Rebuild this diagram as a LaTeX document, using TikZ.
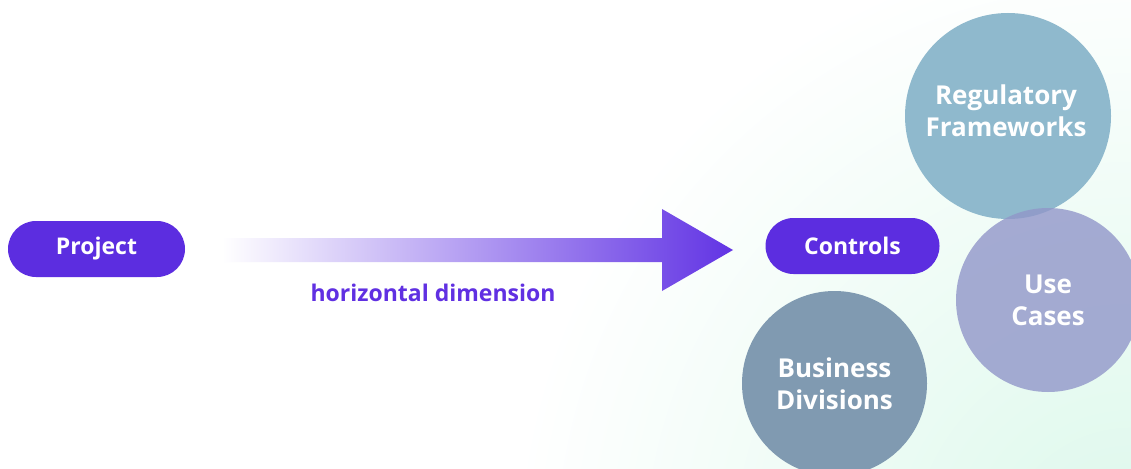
\documentclass[tikz,border=0pt]{standalone}
\usepackage{fontspec}
\setmainfont{Open Sans}
\usetikzlibrary{shapes.geometric,shapes.misc}
\definecolor{pillc}{RGB}{92,45,224}
\definecolor{arrowc}{RGB}{98,52,228}
\definecolor{labelc}{RGB}{96,48,226}
\definecolor{regc}{RGB}{143,185,205}
\definecolor{usec}{RGB}{145,150,201}
\definecolor{busc}{RGB}{128,154,177}
\definecolor{mint}{RGB}{220,248,235}
\tikzset{
  pill/.style={rounded rectangle, fill=pillc, text=white, font=\bfseries\fontsize{23}{26}\selectfont, inner sep=0pt},
  bubble/.style={circle, inner sep=0pt, text=white, align=center, font=\bfseries\fontsize{26}{32}\selectfont},
}
\begin{document}
\begin{tikzpicture}[x=1pt,y=-1pt]
\useasboundingbox (0,0) rectangle (1131,468);
\begin{scope}
\clip (0,0) rectangle (1131,468);
\fill[white] (0,0) rectangle (1131,468);
\shade[inner color=mint, outer color=white] (1131,560) circle (620);
\end{scope}
% arrow
\shade[left color=white, right color=arrowc]
  (222,238) -- (662,238) -- (662,209) -- (733,250) -- (662,291) -- (662,262) -- (222,262) -- cycle;
\coordinate (tip) at (733,250);
\node[pill, minimum width=177pt, minimum height=56pt] (project) at (96.5,249) {Project};
\node[pill, minimum width=174pt, minimum height=56pt] (controls) at (852.5,246) {Controls};
\node[font=\bfseries\fontsize{23}{26}\selectfont, text=labelc] (dim) at (433,293) {horizontal dimension};
% circles
\node[bubble, fill=regc, minimum size=206pt] (reg) at (1008,116) {};
\node[font=\bfseries\fontsize{26}{32}\selectfont, text=white, align=center] (regt) at (1006,111) {Regulatory\\Frameworks};
\node[bubble, fill=usec, fill opacity=0.8, text opacity=1, minimum size=184pt] (use) at (1048,300) {Use\\Cases};
\node[bubble, fill=busc, minimum size=185pt] (bus) at (834.5,383.5) {Business\\Divisions};
\end{tikzpicture}
\end{document}
